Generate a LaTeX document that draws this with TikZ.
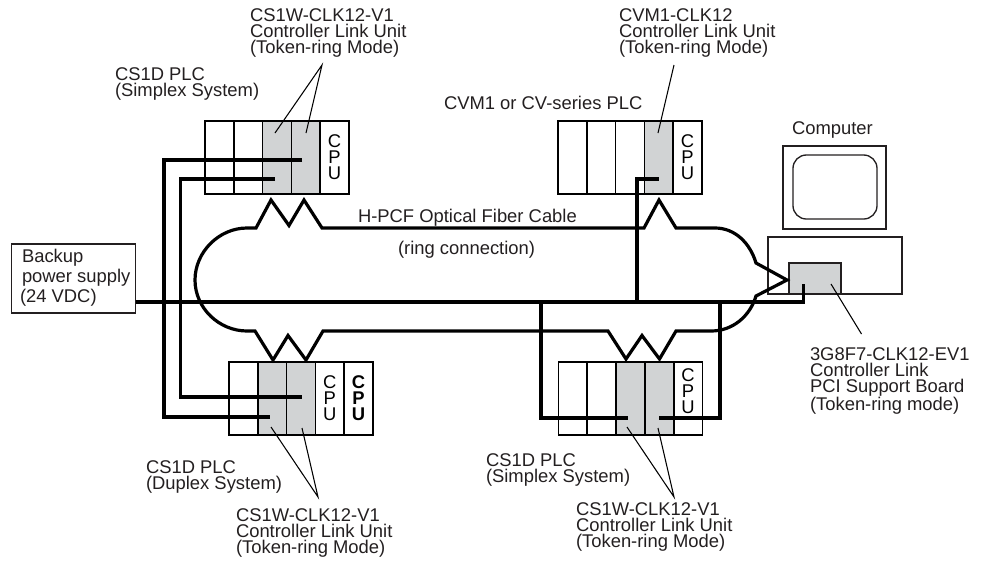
\documentclass[tikz,border=0pt]{standalone}
\usepackage{fontspec}
\setmainfont{Liberation Sans}
\definecolor{unitgray}{RGB}{209,211,212}
\definecolor{inkdark}{RGB}{35,31,32}
\tikzset{
  slot/.style={draw=black, line width=1.3pt, inner sep=0pt, outer sep=0pt, anchor=north west,
    minimum width=21.6pt, minimum height=54.75pt, align=center},
  unit/.style={slot, fill=unitgray},
  label/.style={anchor=north west, inner sep=0pt, outer sep=0pt, align=left, text=inkdark},
  cable/.style={line width=2.4pt, draw=black},
  fiber/.style={line width=2.4pt, draw=black},
  leader/.style={line width=0.8pt, draw=black},
  plainbox/.style={draw=inkdark, line width=1pt, inner sep=0pt, outer sep=0pt, anchor=north west}
}
\newcommand{\cpulabel}{\baselineskip=12.4pt C\\P\\U}
\begin{document}
\begin{tikzpicture}[x=0.75pt, y=-0.75pt, font=\fontsize{13.8pt}{12pt}\selectfont]
\useasboundingbox (0,0) rectangle (982,561);
% ---------- racks ----------
\foreach \n/\sty [count=\i from 0] in {1/slot,2/slot,3/unit,4/unit}
  \node[\sty] (ta\n) at (205+28.8*\i,121) {};
\node[slot] (tacpu) at (320.2,121) {\cpulabel};
\foreach \n/\sty [count=\i from 0] in {1/slot,2/slot,3/slot,4/unit}
  \node[\sty] (tb\n) at (558+28.8*\i,121) {};
\node[slot] (tbcpu) at (673.2,121) {\cpulabel};
\foreach \n/\sty [count=\i from 0] in {1/slot,2/unit,3/unit}
  \node[\sty] (ba\n) at (229+28.8*\i,362) {};
\node[slot] (bacpu) at (315.4,362) {\cpulabel};
\node[slot, font=\fontsize{13.8pt}{12pt}\selectfont\bfseries] (bbcpu) at (344.2,362) {\cpulabel};
\foreach \n/\sty [count=\i from 0] in {1/slot,2/slot,3/unit,4/unit}
  \node[\sty] (bc\n) at (558.5+28.8*\i,362) {};
\node[slot] (bccpu) at (673.7,362) {};
\node[align=center, inner sep=0pt] (bccputxt) at (688,391) {\cpulabel};
% ---------- computer ----------
\node[plainbox, minimum width=77.25pt, minimum height=62.25pt] (monitor) at (783,146) {};
\node[plainbox, rounded corners=10pt, minimum width=63pt, minimum height=48pt] (screen) at (793,155) {};
\node[plainbox, minimum width=100.5pt, minimum height=42.75pt] (case) at (768,237) {};
\node[plainbox, fill=unitgray, minimum width=39pt, minimum height=23.25pt] (board) at (789,263) {};
% ---------- backup supply ----------
\node[plainbox, minimum width=93pt, minimum height=51.75pt] (backup) at (11.5,244) {};
\node[label, font=\fontsize{13.8pt}{15pt}\selectfont] (backuptxt) at (22,249.5) {Backup\\power supply\\\hspace*{-1.5pt}(24 VDC)};
% ---------- ring ----------
\coordinate (ringtop) at (715,228);
\coordinate (ringtip) at (787,280);
\coordinate (ringbot) at (711,331);
\draw[fiber] (ringtop) -- (676,228) -- (659,200) -- (644,228) -- (322,228) -- (304,200) -- (289,225.5)
  -- (271,200) -- (256,228) -- (247,228) .. controls (219,228) and (195,252) .. (195,280)
  .. controls (195,308) and (219,331) .. (247,331) -- (255,331) -- (273,360) -- (288,335.5)
  -- (306,360) -- (323,331) -- (608,331) -- (626,359) -- (642,335.5) -- (659.5,359) -- (676,331)
  -- (ringbot) .. controls (733,331) and (750,316) .. (756,296) -- (ringtip) -- (756,263)
  .. controls (750,243) and (735,228) .. (ringtop);
% ---------- power cables ----------
\coordinate (busend) at (803.5,302);
\coordinate (tapa) at (637,302);
\coordinate (tapb) at (541,302);
\coordinate (tapc) at (720,302);
\coordinate (boardpin) at (803.5,284);
\draw[cable] (backup.east |- busend) -- (busend) -- (boardpin);
\draw[cable] (tapa) |- (659,179);
\draw[cable] (tapb) |- (628,418);
\draw[cable] (tapc) |- (659,418);
\draw[cable] (302,160) -| (164,300) |- (270,417);
\draw[cable] (275,179) -| (180.5,300) |- (302,397);
% ---------- leaders ----------
\coordinate (apexa) at (322,65);
\coordinate (apexb) at (674,65);
\coordinate (apexc) at (318,497);
\coordinate (apexd) at (674,497);
\draw[leader] (275,133) -- (apexa) -- (306,133);
\draw[leader] (apexb) -- (658,133);
\draw[leader] (271,427) -- (apexc) -- (302,428);
\draw[leader] (627,427) -- (apexd) -- (658,428);
\draw[leader] (831,284) -- (861.5,334);
% ---------- labels ----------
\node[label] (unita) at (250,9) {CS1W-CLK12-V1\\Controller Link Unit\\(Token-ring Mode)};
\node[label] (plca) at (115,68) {CS1D PLC\\(Simplex System)};
\node[label] (unitb) at (619,9) {CVM1-CLK12\\Controller Link Unit\\(Token-ring Mode)};
\node[label] (plcb) at (444,96.5) {CVM1 or CV-series PLC};
\node[label] (computer) at (792,122) {Computer};
\node[label] (cablelbl) at (358,209) {H-PCF Optical Fiber Cable};
\node[label] (ringlbl) at (398,241.5) {(ring connection)};
\node[label] (plcc) at (146,460.5) {CS1D PLC\\(Duplex System)};
\node[label] (unitc) at (236,508.5) {CS1W-CLK12-V1\\Controller Link Unit\\(Token-ring Mode)};
\node[label] (plcd) at (486,453.5) {CS1D PLC\\(Simplex System)};
\node[label] (unitd) at (576,502.5) {CS1W-CLK12-V1\\Controller Link Unit\\(Token-ring Mode)};
\node[label] (boardlbl) at (810,347.5) {3G8F7-CLK12-EV1\\Controller Link\\PCI Support Board\\(Token-ring mode)};
\end{tikzpicture}
\end{document}
